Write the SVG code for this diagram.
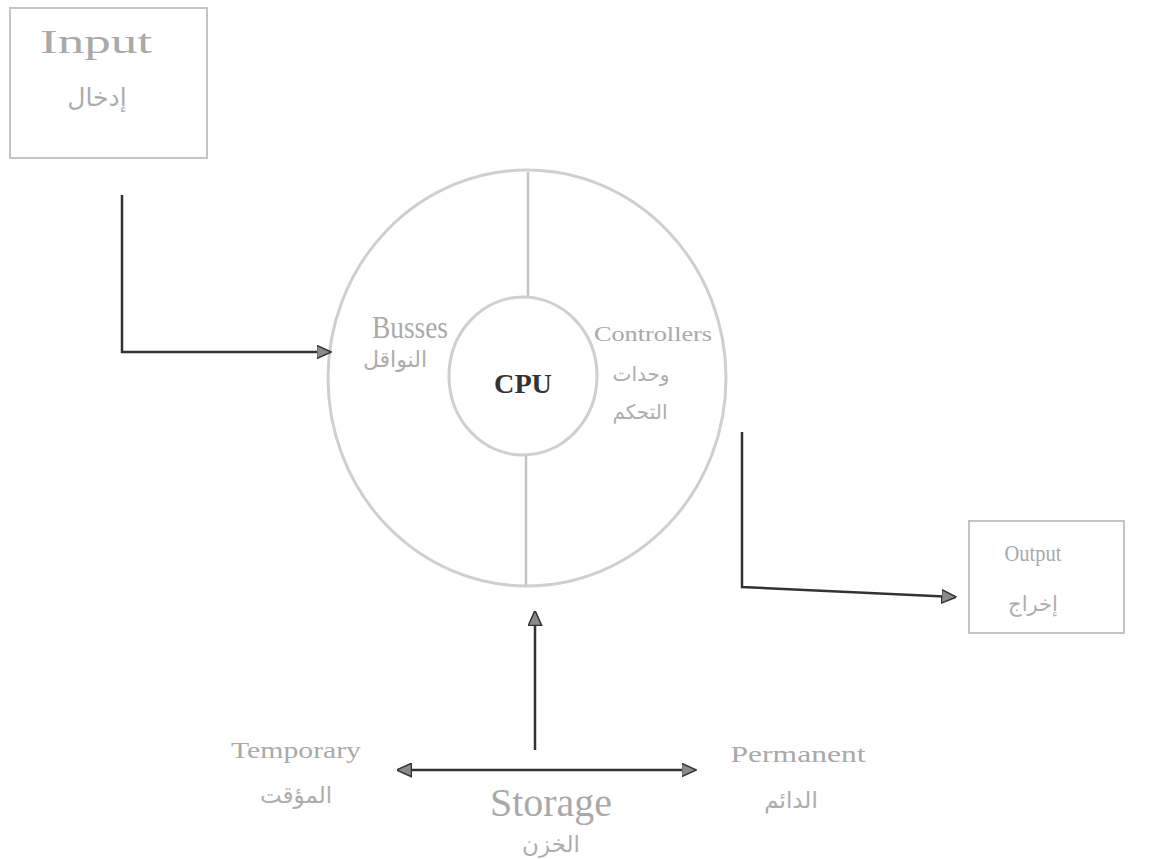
<svg xmlns="http://www.w3.org/2000/svg" width="1152" height="859" viewBox="0 0 1152 859">
<style>
.lbl{font-family:"Liberation Serif","DejaVu Serif",serif;fill:#a9a9a9;text-anchor:middle}
.ar{font-family:"DejaVu Sans","Noto Sans",sans-serif;fill:#adadad;text-anchor:middle}
.box{fill:#fff;stroke:#c4c4c4;stroke-width:2}
.ring{fill:none;stroke:#cfcfcf;stroke-width:3}
.div{stroke:#c4c4c4;stroke-width:2.5}
.con{fill:none;stroke:#333;stroke-width:2.5}
</style>
<defs>
<marker id="ah" viewBox="0 0 10 10" refX="9" refY="5" markerWidth="6" markerHeight="6" orient="auto-start-reverse" markerUnits="strokeWidth">
<path d="M0,0.5 L10,5 L0,9.5 Z" fill="#8a8a8a" stroke="#333" stroke-width="1"/>
</marker>
</defs>
<rect width="1152" height="859" fill="#fff"/>
<g id="input">
<rect class="box" x="10" y="8" width="197" height="150"/>
<text class="lbl" x="96" y="53" font-size="33" textLength="112" lengthAdjust="spacingAndGlyphs">Input</text>
<text class="ar" x="97" y="106" font-size="25">إدخال</text>
</g>
<g id="system">
<ellipse class="ring" cx="527" cy="378" rx="199" ry="208"/>
<line class="div" x1="528" y1="172" x2="528" y2="298"/>
<line class="div" x1="526" y1="455" x2="526" y2="585"/>
<text class="lbl" x="410" y="338" font-size="32" textLength="76" lengthAdjust="spacingAndGlyphs">Busses</text>
<text class="ar" x="395" y="367" font-size="22">النواقل</text>
<text class="lbl" x="653" y="341" font-size="21" textLength="118" lengthAdjust="spacingAndGlyphs">Controllers</text>
<text class="ar" x="641" y="381" font-size="20">وحدات</text>
<text class="ar" x="640" y="419" font-size="20">التحكم</text>
</g>
<g id="cpu">
<ellipse class="ring" cx="523" cy="376" rx="74" ry="79" fill="#fff"/>
<text x="523" y="393" font-family="Liberation Serif,serif" font-size="27" font-weight="bold" fill="#333" text-anchor="middle" textLength="58" lengthAdjust="spacingAndGlyphs">CPU</text>
</g>
<g id="output">
<rect class="box" x="969" y="521" width="155" height="112"/>
<text class="lbl" x="1033" y="561" font-size="23" textLength="57" lengthAdjust="spacingAndGlyphs">Output</text>
<text class="ar" x="1033" y="611" font-size="21">إخراج</text>
</g>
<g id="temporary">
<text class="lbl" x="296" y="758" font-size="23" textLength="130" lengthAdjust="spacingAndGlyphs">Temporary</text>
<text class="ar" x="296" y="803" font-size="23">المؤقت</text>
</g>
<g id="storage">
<text class="lbl" x="551" y="816" font-size="40" textLength="122" lengthAdjust="spacingAndGlyphs">Storage</text>
<text class="ar" x="551" y="852" font-size="23">الخزن</text>
</g>
<g id="permanent">
<text class="lbl" x="798" y="762" font-size="23" textLength="135" lengthAdjust="spacingAndGlyphs">Permanent</text>
<text class="ar" x="791" y="808" font-size="23">الدائم</text>
</g>
<g id="connectors">
<polyline class="con" points="122,195 122,352 330,352" marker-end="url(#ah)"/>
<polyline class="con" points="742,432 742,587 955,597" marker-end="url(#ah)"/>
<line class="con" x1="535" y1="750" x2="535" y2="612" marker-end="url(#ah)"/>
<line class="con" x1="398" y1="770" x2="695" y2="770" marker-start="url(#ah)" marker-end="url(#ah)"/>
</g>
</svg>
